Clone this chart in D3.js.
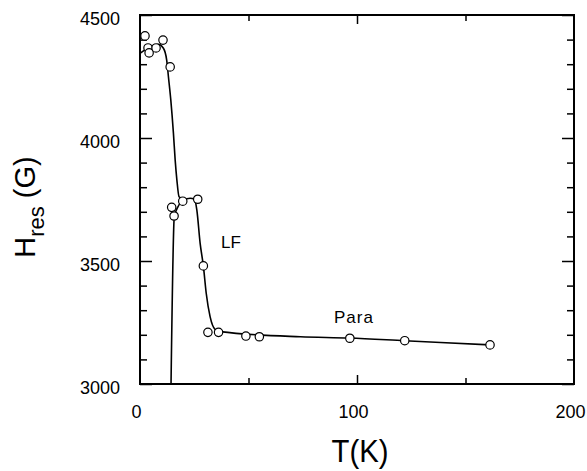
<!DOCTYPE html>
<html>
<head>
<meta charset="utf-8">
<script src="https://cdn.jsdelivr.net/npm/d3@7/dist/d3.min.js"></script>
<style>
  html, body { margin: 0; padding: 0; background: #fff; }
  svg { display: block; font-family: "Liberation Sans", Arial, Helvetica, sans-serif; }
</style>
</head>
<body>
<svg id="chart" width="587" height="471"></svg>
<script>
// ---- data ----
const pointT = [2.3, 3.7, 4.2, 7.4, 10.6, 13.9, 14.6, 15.7, 19.7, 26.6, 29.2, 31.3, 36.2, 48.8, 55.0, 96.7, 122.0, 161.3];
const pointH = [4415, 4366, 4346, 4366, 4398, 4289, 3718, 3683, 3743, 3751, 3480, 3210, 3210, 3195, 3192, 3186, 3176, 3159];

// main fitted curve (upper branch)
const curveT = [0, 4.6, 8.5, 10.8, 12.3, 13.1, 14.2, 15.4, 16.2, 17.0, 18.0, 20.0, 23.1, 25.1, 26.2, 27.7, 29.2, 30.5, 32.3, 34.6, 37.0, 73.9, 96.5, 122.0, 161.2];
const curveH = [4344, 4371, 4381, 4365, 4317, 4249, 4154, 4020, 3911, 3829, 3761, 3751, 3755, 3751, 3707, 3573, 3480, 3370, 3274, 3222, 3213, 3192, 3187, 3176, 3159];

// lower branch
const branchT = [14.3, 15.8, 17.0, 19.5];
const branchH = [3000, 3680, 3712, 3745];

const xMajor = [0, 100, 200];
const xMinor = [50, 150];
const yMajor = [3000, 3500, 4000, 4500];
const yMinor = [3100, 3200, 3300, 3400, 3600, 3700, 3800, 3900, 4100, 4200, 4300, 4400];

// ---- layout ----
const svg = d3.select("#chart");
const L = 140, R = 574, T = 15, B = 384;
const x = d3.scaleLinear().domain([0, 200]).range([L, R]);
const y = d3.scaleLinear().domain([3000, 4500]).range([B, T]);

// frame
svg.append("rect").attr("x", L).attr("y", T).attr("width", R - L).attr("height", B - T)
  .attr("fill", "none").attr("stroke", "#000").attr("stroke-width", 2);

function tickAxis(axis, tr, vals, size) {
  const g = svg.append("g").attr("transform", tr)
    .call(axis.tickValues(vals).tickSize(size).tickFormat(""));
  g.select(".domain").remove();
  g.selectAll("line").attr("stroke", "#000").attr("stroke-width", 1.5);
}
// y ticks (inward) left & right
tickAxis(d3.axisRight(y), `translate(${L},0)`, yMinor, 7);
tickAxis(d3.axisRight(y), `translate(${L},0)`, yMajor, 12);
tickAxis(d3.axisLeft(y), `translate(${R},0)`, yMinor, 7);
tickAxis(d3.axisLeft(y), `translate(${R},0)`, yMajor, 12);
// x ticks (inward) bottom & top
tickAxis(d3.axisTop(x), `translate(0,${B})`, xMinor, 6);
tickAxis(d3.axisTop(x), `translate(0,${B})`, [100], 9);
tickAxis(d3.axisBottom(x), `translate(0,${T})`, xMinor, 6);
tickAxis(d3.axisBottom(x), `translate(0,${T})`, [100], 9);

// tick labels
const yl = svg.append("g").attr("transform", `translate(${L},0)`)
  .call(d3.axisLeft(y).tickValues(yMajor).tickSize(0).tickPadding(20).tickFormat(d3.format("d")));
yl.select(".domain").remove();
yl.selectAll("text").attr("font-size", 18).attr("font-family", null).attr("fill", "#000").attr("dy", "0.55em");

const xl = svg.append("g").attr("transform", `translate(0,${B})`)
  .call(d3.axisBottom(x).tickValues(xMajor).tickSize(0).tickPadding(21).tickFormat(d3.format("d")));
xl.select(".domain").remove();
xl.selectAll("text").attr("font-size", 18).attr("font-family", null).attr("fill", "#000").attr("dx", -4);

// curves
const line = d3.line().x(d => x(d[0])).y(d => y(d[1])).curve(d3.curveMonotoneX);
svg.append("path").datum(curveT.map((t, i) => [t, curveH[i]]))
  .attr("d", line).attr("fill", "none").attr("stroke", "#000").attr("stroke-width", 1.6);
svg.append("path").datum(branchT.map((t, i) => [t, branchH[i]]))
  .attr("d", line).attr("fill", "none").attr("stroke", "#000").attr("stroke-width", 1.6);

// points
svg.append("g").selectAll("circle").data(pointT.map((t, i) => [t, pointH[i]])).join("circle")
  .attr("cx", d => x(d[0])).attr("cy", d => y(d[1])).attr("r", 4.2)
  .attr("fill", "#fff").attr("stroke", "#000").attr("stroke-width", 1.2);

// annotations
svg.append("text").attr("x", 221).attr("y", 248).attr("font-size", 17).text("LF");
svg.append("text").attr("x", 334).attr("y", 323).attr("font-size", 17).attr("letter-spacing", 1).text("Para");

// axis titles
svg.append("text").attr("x", 360).attr("y", 462).attr("text-anchor", "middle")
  .attr("font-size", 32).attr("textLength", 57).attr("lengthAdjust", "spacingAndGlyphs").text("T(K)");

const yt = svg.append("text").attr("transform", "translate(35,207) rotate(-90)")
  .attr("text-anchor", "middle").attr("font-size", 29);
yt.append("tspan").text("H");
yt.append("tspan").attr("font-size", 22).attr("dy", 9).text("res");
yt.append("tspan").attr("dy", -9).text(" (G)");
</script>
</body>
</html>
